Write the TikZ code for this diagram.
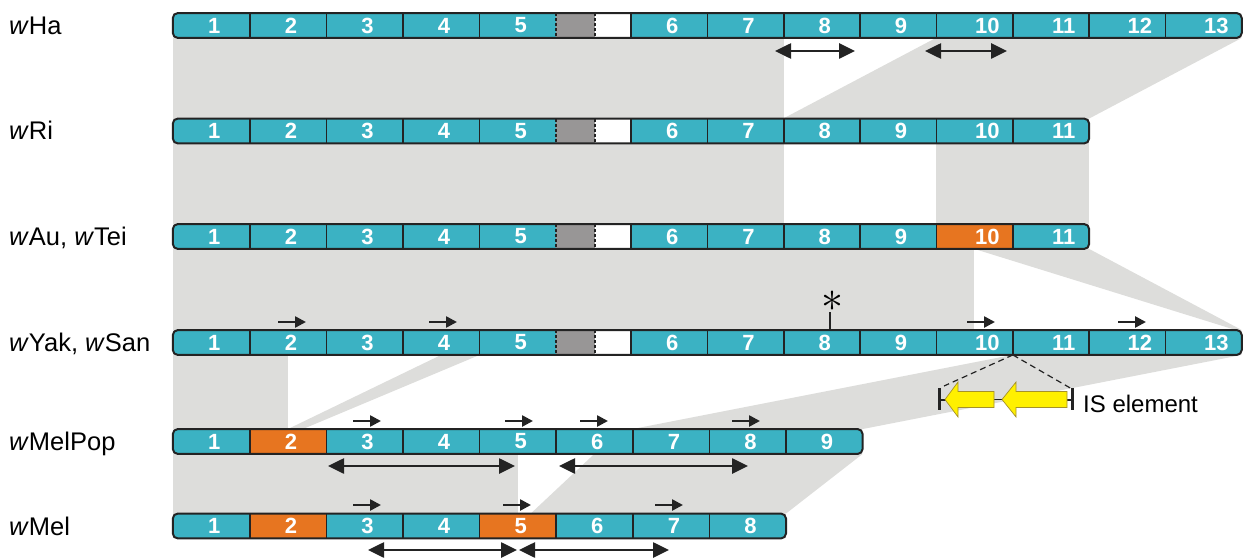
\documentclass[tikz,border=0pt]{standalone}
\usepackage{fontspec}
\setmainfont{Liberation Sans}
\usetikzlibrary{arrows.meta,calc}

\definecolor{segteal}{RGB}{59,178,195}
\definecolor{segorange}{RGB}{231,117,32}
\definecolor{gapgray}{RGB}{152,150,150}
\definecolor{bandgray}{RGB}{221,221,219}
\definecolor{inkdark}{RGB}{35,35,35}
\definecolor{isyellow}{RGB}{255,240,0}
\definecolor{isrim}{RGB}{165,145,40}

\pgfdeclarelayer{bands}
\pgfsetlayers{bands,main}

% segment numbers sit a little right of centre, two-digit ones more so
\newcommand\segnum[1]{\ifnum#1>9 \hspace*{26pt}\else\hspace*{6pt}\fi#1}

% genome row with the grey/white gap after segment 5
% #1 prefix, #2 y centre, #3 last segment, #4 orange segment (0 = none)
\newcommand\gaprow[4]{%
  \fill[segteal, rounded corners=5pt] (173,#2-12.25) rectangle ({631+(#3-5)*76.3},#2+12.25);
  \foreach \i in {1,...,5}
    \node[seg] (#1\i) at ({173+(\i-0.5)*76.6},#2) {\segnum{\i}};
  \node[seg, minimum width=39pt, fill=gapgray] (#1g) at (575.5,#2) {};
  \node[seg, minimum width=36pt, fill=white] (#1w) at (613,#2) {};
  \foreach \i in {6,...,#3}{%
    \def\segfill{none}\ifnum\i=#4 \def\segfill{segorange}\fi
    \node[seg, fill=\segfill] (#1\i) at ({631+(\i-5.5)*76.3},#2) {\segnum{\i}};}
  \foreach \i in {1,...,4}
    \draw[divider] (#1\i.north east) -- (#1\i.south east);
  \draw[divider, gapdash] (#1g.north west) -- (#1g.south west);
  \draw[divider, gapdash] (#1g.north east) -- (#1g.south east);
  \draw[divider] (#1w.north east) -- (#1w.south east);
  \pgfmathtruncatemacro\lastbut{#3-1}
  \foreach \i in {6,...,\lastbut}
    \draw[divider] (#1\i.north east) -- (#1\i.south east);
  \draw[outline] (#11.north west) rectangle (#1#3.south east);
}

% contiguous genome row
% #1 prefix, #2 y centre, #3 last segment, #4 #5 orange segments (0 = none)
\newcommand\plainrow[5]{%
  \fill[segteal, rounded corners=5pt] (173,#2-12.25) rectangle ({173+#3*76.6},#2+12.25);
  \foreach \i in {1,...,#3}{%
    \def\segfill{none}\ifnum\i=#4 \def\segfill{segorange}\fi\ifnum\i=#5 \def\segfill{segorange}\fi
    \node[seg, fill=\segfill] (#1\i) at ({173+(\i-0.5)*76.6},#2) {\segnum{\i}};}
  \pgfmathtruncatemacro\lastbut{#3-1}
  \foreach \i in {1,...,\lastbut}
    \draw[divider] (#1\i.north east) -- (#1\i.south east);
  \draw[outline] (#11.north west) rectangle (#1#3.south east);
}

\tikzset{
  seg/.style={rectangle, inner sep=0pt, minimum width=76.6pt, minimum height=24.5pt,
    text=white, font=\fontsize{22}{22}\selectfont\bfseries},
  divider/.style={draw=inkdark, line width=1.6pt},
  gapdash/.style={dash pattern=on 3pt off 2pt},
  outline/.style={draw=inkdark, line width=2pt, rounded corners=5pt},
  band/.style={fill=bandgray},
  strain/.style={anchor=base west, inner sep=0pt, font=\fontsize{25.5}{25.5}\selectfont, text=black},
  tag/.style={anchor=base west, inner sep=0pt, font=\fontsize{24}{24}\selectfont, text=black},
  span/.style={{Triangle[length=16pt,width=15pt]}-{Triangle[length=16pt,width=15pt]},
    line width=2.6pt, draw=inkdark},
  orient/.style={-{Triangle[length=11pt,width=11pt]}, line width=2.5pt, draw=inkdark},
  isdash/.style={draw=inkdark, line width=1.2pt, dash pattern=on 6pt off 4pt},
  isarrow/.style={fill=isyellow, draw=isrim, line width=0.7pt},
}

\begin{document}
\begin{tikzpicture}[x=1pt, y=-1pt]
\useasboundingbox (0,0) rectangle (1243,559);

% genome rows
\gaprow{ha}{25.5}{13}{0}
\gaprow{ri}{131}{11}{0}
\gaprow{au}{236.5}{11}{10}
\gaprow{yk}{342.5}{13}{0}
\plainrow{mp}{441.5}{9}{2}{0}
\plainrow{ml}{526}{8}{2}{5}

% strain names
\node[strain] (lHa)  at (9,34.5)  {\textit{w}Ha};
\node[strain] (lRi)  at (9,140)   {\textit{w}Ri};
\node[strain] (lAu)  at (9,245.5) {\textit{w}Au, \textit{w}Tei};
\node[strain] (lYak) at (9,351.5) {\textit{w}Yak, \textit{w}San};
\node[strain] (lMP)  at (9,450.5) {\textit{w}MelPop};
\node[strain] (lMel) at (9,535)   {\textit{w}Mel};

% shared regions between neighbouring rows
\begin{pgfonlayer}{bands}
  \fill[band] (ha1.south west) rectangle (ri7.north east);
  \fill[band] (ha10.south west) -- (ha13.south east) -- (ri11.north east) -- (ri8.north west) -- cycle;
  \fill[band] (ri1.south west) rectangle (au7.north east);
  \fill[band] (ri10.south west) rectangle (au11.north east);
  \fill[band] (au1.south west) rectangle (yk10.north);
  \fill[band] (au10.south) -- (au11.south east) -- (yk13.north east) -- ($(yk13.north east)+(-6,0)$) -- cycle;
  \fill[band] (yk1.south west) rectangle (mp2.north);
  \fill[band] (yk4.south) -- (yk4.south east) -- ($(mp2.north)+(15,0)$) -- (mp2.north) -- cycle;
  \fill[band] (yk11.south west) -- (yk13.south east) -- (mp9.north east) -- (mp7.north west) -- cycle;
  \fill[band] (mp1.south west) rectangle (ml5.north);
  \fill[band] (mp6.south) -- (mp9.south east) -- (ml8.north east) -- ($(ml5.north)+(13,0)$) -- cycle;
\end{pgfonlayer}

% repeat spans
\foreach \a/\b/\y [count=\n] in {775/855/51, 925/1007/51, 328/515/466, 559/748/466, 368/517/550, 519/669/550}{
  \coordinate (sp\n a) at (\a,\y);
  \coordinate (sp\n b) at (\b,\y);
  \draw[span] (sp\n a) -- (sp\n b);
}

% orientation arrows
\foreach \a/\y [count=\n] in {278/322, 429/322, 967/322, 1118/322,
                               353/421, 505/421, 580/421, 732/421,
                               353/505, 503/505, 655/505}{
  \coordinate (or\n a) at (\a,\y);
  \coordinate (or\n b) at (\a+28,\y);
  \draw[orient] (or\n a) -- (or\n b);
}

% point mutation in segment 8
\coordinate (tickTop) at (830,312);
\coordinate (tickFoot) at (830,330);
\draw[line width=2.2pt, draw=inkdark] (tickFoot) -- (tickTop);
\node[inner sep=0pt, scale=4.4] (ast) at (832,301) {$\ast$};

% IS element insertion
\coordinate (isRoot) at (yk10.south east);
\coordinate (isL) at (944,386);
\coordinate (isR) at (1072,389);
\draw[isdash] (isRoot) -- (isL);
\draw[isdash] (isRoot) -- (isR);
\draw[line width=3pt, draw=inkdark] (939,388) -- (939,410);
\draw[line width=2pt, draw=inkdark] (939,399.5) -- (946,399.5);
\draw[line width=3pt, draw=inkdark] (1072,388) -- (1072,410);
\draw[line width=2pt, draw=inkdark] (1066,399.5) -- (1072,399.5);
\draw[line width=1.5pt, draw=inkdark] (993,399.5) -- (1003,399.5);
\filldraw[isarrow] (945,399.5) -- (958,382) -- (958,391.5) -- (994,391.5) -- (994,407.5) -- (958,407.5) -- (958,417) -- cycle;
\filldraw[isarrow] (1002,399.5) -- (1016,382) -- (1016,391.5) -- (1067,391.5) -- (1067,407.5) -- (1016,407.5) -- (1016,417) -- cycle;
\node[tag] (isLabel) at (1083,412) {IS element};
\end{tikzpicture}
\end{document}
